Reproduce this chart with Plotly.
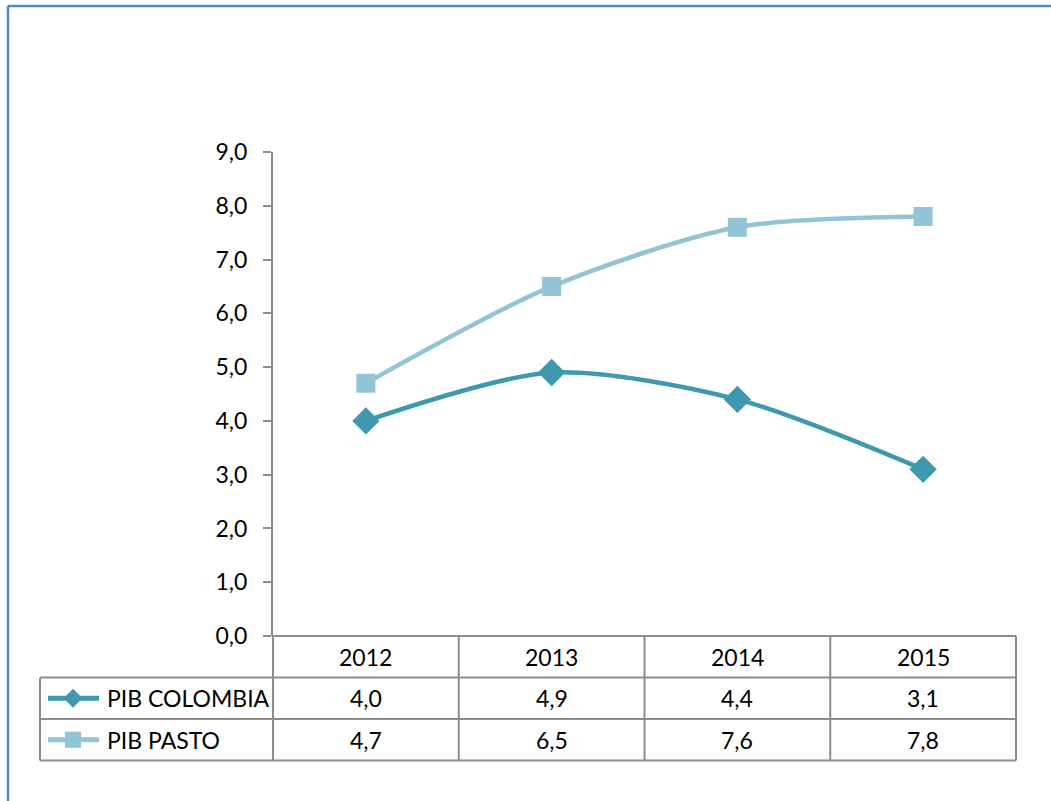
import plotly.graph_objects as go

# Data
years = ["2012", "2013", "2014", "2015"]
pib_colombia = [4.0, 4.9, 4.4, 3.1]
pib_pasto = [4.7, 6.5, 7.6, 7.8]
series_names = ["PIB COLOMBIA", "PIB PASTO"]
y_ticks = [0, 1, 2, 3, 4, 5, 6, 7, 8, 9]

COL_DARK = "#3F98B0"
COL_LIGHT = "#93C4D6"
GRID = "#8C8C8C"
FONT = "Lato"
FS = 23

W, H = 1051, 801
M_L, M_R, M_T, M_B = 273, 35, 152, 165
plot_w = W - M_L - M_R
plot_h = H - M_T - M_B
row_h = 41.5 / plot_h  # table row height in y-domain units


def px_x(px):
    """Horizontal pixel position -> paper x."""
    return (px - M_L) / plot_w


x_idx = list(range(len(years)))

fig = go.Figure()
fig.add_trace(go.Scatter(
    x=x_idx, y=pib_colombia, mode="lines+markers", name=series_names[0],
    line=dict(color=COL_DARK, width=4.5, shape="spline", smoothing=0.8),
    marker=dict(symbol="diamond", size=21, color=COL_DARK),
    showlegend=False,
))
fig.add_trace(go.Scatter(
    x=x_idx, y=pib_pasto, mode="lines+markers", name=series_names[1],
    line=dict(color=COL_LIGHT, width=4.5, shape="spline", smoothing=0.8),
    marker=dict(symbol="square", size=19, color=COL_LIGHT),
    showlegend=False,
))

shapes = []
annotations = []

# data table below the plot area
tbl_left = px_x(40)
line_style = dict(color=GRID, width=2)

# horizontal rules
for k, x0 in [(0, 0.0), (1, tbl_left), (2, tbl_left), (3, tbl_left)]:
    shapes.append(dict(type="line", xref="paper", yref="paper",
                       x0=x0, x1=1.0, y0=-k * row_h, y1=-k * row_h, line=line_style))
# vertical rules
n = len(years)
for i in range(n + 1):
    shapes.append(dict(type="line", xref="paper", yref="paper",
                       x0=i / n, x1=i / n, y0=0, y1=-3 * row_h, line=line_style))
shapes.append(dict(type="line", xref="paper", yref="paper",
                   x0=tbl_left, x1=tbl_left, y0=-row_h, y1=-3 * row_h, line=line_style))

txt_font = dict(family=FONT, size=FS, color="#000")

# header and values
for i, yr in enumerate(years):
    annotations.append(dict(x=(i + 0.5) / n, y=-0.5 * row_h, xref="paper", yref="paper",
                            text=yr, showarrow=False, xanchor="center", yanchor="middle",
                            font=txt_font))
for r, vals in enumerate([pib_colombia, pib_pasto]):
    for i, v in enumerate(vals):
        annotations.append(dict(x=(i + 0.5) / n, y=-(r + 1.5) * row_h, xref="paper", yref="paper",
                                text=f"{v:.1f}".replace(".", ","), showarrow=False,
                                xanchor="center", yanchor="middle", font=txt_font))

# series keys in the first column
for r, (name, col, sym) in enumerate([(series_names[0], COL_DARK, "diamond"),
                                       (series_names[1], COL_LIGHT, "square")]):
    yc = -(r + 1.5) * row_h
    shapes.append(dict(type="line", xref="paper", yref="paper",
                       x0=px_x(48), x1=px_x(99), y0=yc, y1=yc,
                       line=dict(color=col, width=5)))
    cx = px_x(73)
    dx = 9.5 / plot_w
    dy = 9.5 / plot_h
    if sym == "diamond":
        shapes.append(dict(type="path", xref="paper", yref="paper",
                           path=f"M {cx - dx} {yc} L {cx} {yc + dy} L {cx + dx} {yc} L {cx} {yc - dy} Z",
                           fillcolor=col, line=dict(width=0)))
    else:
        shapes.append(dict(type="rect", xref="paper", yref="paper",
                           x0=cx - dx * 0.85, x1=cx + dx * 0.85, y0=yc - dy * 0.85, y1=yc + dy * 0.85,
                           fillcolor=col, line=dict(width=0)))
    annotations.append(dict(x=px_x(105), y=yc, xref="paper", yref="paper",
                            text=name, showarrow=False, xanchor="left", yanchor="middle",
                            font=txt_font))

# chart frame (top and left edges)
frame = dict(color="#5B86C5", width=2.5)
top_y = 1 + (M_T - 6) / plot_h
shapes.append(dict(type="line", xref="paper", yref="paper",
                   x0=px_x(8), x1=px_x(W + 5), y0=top_y, y1=top_y, line=frame))
shapes.append(dict(type="line", xref="paper", yref="paper",
                   x0=px_x(8), x1=px_x(8), y0=top_y, y1=-(M_B + 5) / plot_h, line=frame))

fig.update_layout(
    width=W, height=H,
    margin=dict(l=M_L, r=M_R, t=M_T, b=M_B),
    paper_bgcolor="white", plot_bgcolor="white",
    separators=",.",
    shapes=shapes, annotations=annotations,
    font=txt_font,
    xaxis=dict(range=[-0.5, n - 0.5], showgrid=False, zeroline=False,
               showticklabels=False, ticks="", showline=False, fixedrange=True),
    yaxis=dict(range=[0, 9], tickvals=y_ticks, tickformat=".1f", showgrid=False,
               zeroline=False, showline=True, linecolor=GRID, linewidth=2,
               ticks="outside", ticklen=8, tickwidth=2, tickcolor=GRID,
               ticklabelstandoff=11, tickfont=txt_font, fixedrange=True),
)

fig.write_html("out.html", config={"displayModeBar": False})
